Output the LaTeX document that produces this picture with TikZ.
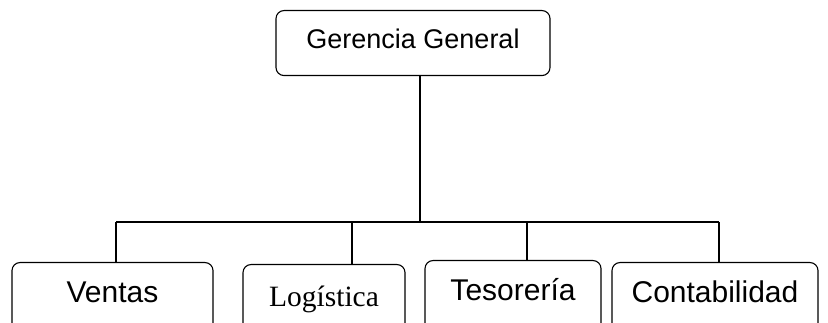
\documentclass[tikz,border=0pt]{standalone}
\usepackage{fontspec}
\setmainfont{Liberation Sans}
\newfontfamily\timesfont{Liberation Serif}
\usetikzlibrary{positioning}
\tikzset{
  unitbox/.style={draw, rounded corners=8pt, line width=1.1pt, inner xsep=0pt, inner ysep=0pt,
    anchor=north, font=\fontsize{30}{35}\selectfont, text height=40pt, text depth=33pt},
  link/.style={line width=1.8pt}
}
\begin{document}
\begin{tikzpicture}[x=1pt,y=-1pt]
  \useasboundingbox (0,0) rectangle (828,323);
  \clip (0,0) rectangle (828,323);
  % top
  \node[unitbox, minimum width=274pt, font=\fontsize{27}{32}\selectfont,
        text height=38pt, text depth=27pt] (gerencia) at (413,10) {Gerencia General};
  % departments
  \node[unitbox, minimum width=201pt] (ventas) at (112.5,262) {Ventas};
  \node[unitbox, minimum width=162pt, font=\timesfont\fontsize{29.5}{34}\selectfont,
        text height=42pt] (logistica) at (324,264) {Logística};
  \node[unitbox, minimum width=176pt] (tesoreria) at (513,260) {Tesorería};
  \node[unitbox, minimum width=206pt] (contabilidad) at (715,262) {Contabilidad};
  % bus
  \coordinate (trunk) at (420,222);
  \coordinate (c1) at (116,222);
  \coordinate (c2) at (352,222);
  \coordinate (c3) at (527,222);
  \coordinate (c4) at (719,222);
  \draw[link] (gerencia.south -| trunk) -- (trunk);
  \draw[link] (c1) -- (c4);
  \foreach \c/\n in {c1/ventas, c2/logistica, c3/tesoreria, c4/contabilidad}
    \draw[link] (\c) -- (\c |- \n.north);
\end{tikzpicture}
\end{document}
